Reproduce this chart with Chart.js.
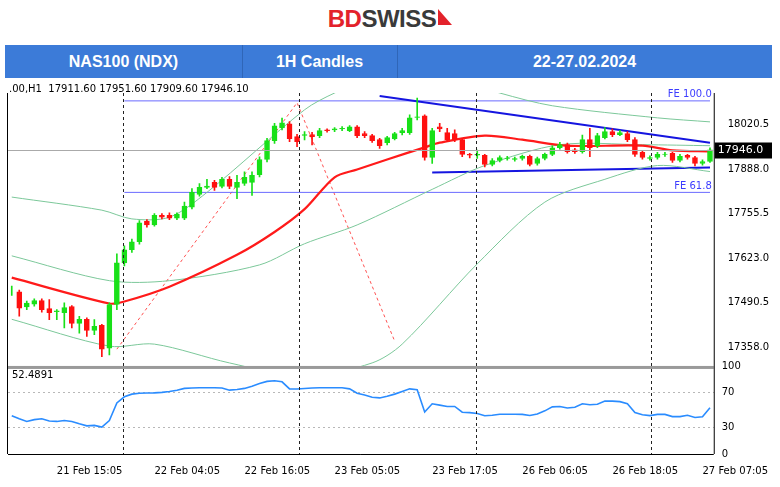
<!DOCTYPE html>
<html>
<head>
<meta charset="utf-8">
<script src="https://cdn.jsdelivr.net/npm/chart.js@4"></script>
<style>
  body { margin:0; width:780px; height:487px; background:#fff; font-family:"Liberation Sans", Arial, sans-serif; overflow:hidden; position:relative; }
  .logo { position:absolute; top:5px; left:0; width:780px; text-align:center; font:bold 24px "Liberation Sans", Arial, sans-serif; letter-spacing:-0.5px; }
  .logo .bd { color:#e3222b; } .logo .sw { color:#3a3a3a; }
  .logo .flag { display:inline-block; width:0; height:0; border-left:14px solid #e3222b; border-top:16px solid transparent; vertical-align:2px; margin-left:2px; }
  .banner { position:absolute; left:5px; top:45px; width:767px; height:33px; background:#3c7bd8; color:#fff; font:bold 16px "Liberation Sans", Arial, sans-serif; }
  .banner div { position:absolute; top:0; height:33px; line-height:33px; text-align:center; border-right:1px solid #2f66b8; }
  .wrap { position:absolute; left:5px; top:79px; width:767px; height:401px; }
  .ohlc { position:absolute; left:9px; top:83px; font:10px "DejaVu Sans", sans-serif; color:#000; white-space:nowrap; }
</style>
</head>
<body>
<div class="logo"><span class="bd">BD</span><span class="sw">SWISS</span><span class="flag"></span></div>
<div class="banner">
  <div style="left:0;width:237px">NAS100 (NDX)</div>
  <div style="left:237px;width:155px">1H Candles</div>
  <div style="left:392px;width:375px;border-right:none">22-27.02.2024</div>
</div>
<div class="wrap"><canvas id="chart"></canvas></div>
<div class="ohlc">.00,H1&nbsp; 17911.60 17951.60 17909.60 17946.10</div>
<script>
// ----- candles (NAS100 1H) -----
const opens  = [17523,17523,17478,17486,17497,17473,17464,17461,17479,17429,17441,17408,17423,17355,17485,17609,17648,17672,17733,17722,
                17751,17751,17742,17742,17775,17813,17834,17849,17837,17858,17834,17846,17849,17872,17917,17973,18011,18023,17985,17989,
                17991,17988,18005,18005,18008,18003,18014,17994,17988,17976,17967,17979,17997,17997,18042,18047,17923,18014,17997,17994,
                17976,17932,17930,17929,17902,17914,17920,17917,17920,17926,17905,17920,17932,17952,17961,17946,17940,17976,17958,17982,
                18000,17991,17994,17976,17938,17920,17923,17932,17935,17914,17929,17923,17905,17911];
const closes = [17523,17474,17489,17497,17470,17461,17466,17476,17429,17441,17408,17420,17352,17485,17609,17648,17672,17728,17722,17751,
                17745,17742,17754,17778,17819,17834,17838,17834,17858,17837,17849,17864,17870,17917,17973,18017,18026,17979,17970,17991,
                17985,18003,18003,18008,18010,18014,17988,17988,17973,17958,17982,17994,18003,18041,18044,17923,18003,18008,17976,17976,
                17932,17930,17932,17902,17914,17923,17921,17920,17926,17902,17920,17932,17952,17961,17940,17940,17976,17952,17988,18000,
                17991,17997,17976,17932,17923,17923,17932,17933,17914,17926,17923,17905,17911,17946];
const highs  = [17540,17528,17495,17502,17502,17500,17470,17490,17482,17450,17445,17440,17426,17490,17636,17660,17680,17735,17738,17756,
                17756,17758,17758,17790,17830,17845,17858,17855,17864,17866,17870,17880,17880,17925,17980,18025,18040,18030,17992,18000,
                17998,18010,18008,18012,18015,18018,18018,18000,17992,17980,17986,17998,18010,18050,18100,18050,18010,18025,18010,18005,
                17980,17935,17945,17932,17920,17928,17926,17924,17930,17930,17924,17936,17958,17968,17966,17950,17990,18010,17995,18012,
                18008,18004,18000,17982,17942,17928,17938,17938,17938,17932,17932,17926,17916,17952];
const lows   = [17512,17450,17470,17480,17462,17440,17440,17415,17415,17400,17390,17395,17330,17335,17470,17600,17640,17665,17715,17718,
                17740,17738,17738,17738,17770,17808,17830,17825,17832,17830,17800,17840,17810,17865,17910,17965,18005,17970,17955,17975,
                17960,17982,17998,18000,18003,18000,17982,17982,17968,17950,17960,17975,17990,17992,18035,17915,17905,18000,17970,17970,
                17925,17922,17920,17895,17898,17910,17915,17912,17915,17898,17900,17916,17928,17948,17936,17935,17936,17925,17952,17978,
                17985,17988,17970,17926,17918,17915,17918,17926,17908,17910,17918,17898,17900,17908];

// ----- indicator (oscillator, bottom panel) -----
const osc = [43.5,40,37,39,40,37.5,37,38,37,34.3,32,32.5,30.5,38,58,65,68,69,69.2,69.4,
             70,71,72.5,74.5,75,75.3,75.3,75.3,75,72.5,73.2,74.5,77,80,82.5,83.2,82,74,73.8,74.4,
             75,75.3,75.3,75.3,75.2,74,69,67,64.5,63.7,65.5,68,71,74,73,47.7,57,55.5,54,54,
             47.5,47,46,43.5,44,45.2,45.2,45.2,45,43.8,45.5,49,53.5,54,52.3,53,57,56,56.5,60.2,
             60,59.5,57,47,44.5,43.6,45,45,42.5,42.5,44,41.5,42.3,52.5];
const oscLast = '52.4891';

// ----- x axis tick labels (candle index -> text) -----
const tickIdx  = [6, 19, 31, 43, 56, 68, 80, 92];
const tickText = ['21 Feb 15:05','22 Feb 04:05','22 Feb 16:05','23 Feb 05:05','23 Feb 17:05','26 Feb 06:05','26 Feb 18:05','27 Feb 07:05'];
const priceTicks = [17358, 17490.5, 17623, 17755.5, 17888, 18020.5];
const oscTicks = [0, 30, 70, 100];
const sessionBreaks = [14.8, 38.3, 61.9, 85.2];

// ----- overlay lines: [candle index, price] -----
const maRed   = [[0,17565],[13,17488],[15,17494],[21,17538],[30,17633],[35,17701],[39,17769],[43,17864],[46,17887],[50,17917],
                 [55,17953],[57,17967],[63,17988],[68,17976],[74,17958],[84,17958],[88,17944],[93,17941]];
const bandUp  = [[0,17805],[12,17766],[16,17740],[21,17745],[26,17819],[39,18065],[43,18115],[52,18200],[65,18115],[72,18077],[86,18041],[93,18029]];
const bandMid = [[0,17630],[13,17556],[21,17556],[33,17603],[39,17666],[46,17722],[56,17828],[63,17899],[73,17961],[84,17961],[93,17958]];
const bandLow = [[0,17441],[13,17361],[19,17367],[29,17311],[39,17270],[48,17311],[52,17367],[62,17606],[71,17790],[79,17858],[86,17899],[93,17881]];
const trendUp = [[49,18106],[93,17967]];
const trendLow= [[56,17878],[93,17893]];
const fe100   = [[15,18091.5],[93,18091.5]];
const fe618   = [[15,17819],[93,17819]];
const fibo    = [[14,17352],[38,18086],[51,17376]];

const labels = opens.map((_, i) => { const k = tickIdx.indexOf(i); return k >= 0 ? tickText[k] : ''; });
function sparse(pts) { const a = new Array(opens.length).fill(null); pts.forEach(p => a[p[0]] = p[1]); return a; }
const UP = '#18e018', DN = '#ff1010';
const col = opens.map((o, i) => closes[i] >= o ? UP : DN);

function line(data, color, width, extra) {
  return Object.assign({ type:'line', data: sparse(data), borderColor: color, borderWidth: width, pointRadius: 0,
    spanGaps: true, yAxisID: 'y', tension: 0.3, order: 5 }, extra || {});
}

const overlay = {
  id: 'overlay',
  afterDraw(chart) {
    const { ctx, chartArea: a, scales: { x, y, y2 } } = chart;
    const step = x.getPixelForValue(1) - x.getPixelForValue(0);
    ctx.save();
    ctx.fillStyle = '#9a9a9a'; ctx.fillRect(a.left, y.bottom, a.right - a.left, 3);
    ctx.strokeStyle = '#000'; ctx.lineWidth = 1;
    ctx.beginPath(); ctx.moveTo(a.left, a.bottom + 0.5); ctx.lineTo(a.right, a.bottom + 0.5);
    ctx.moveTo(a.right + 0.5, a.top); ctx.lineTo(a.right + 0.5, a.bottom);
    ctx.moveTo(a.left - 0.5, a.top); ctx.lineTo(a.left - 0.5, a.bottom); ctx.stroke();
    ctx.setLineDash([3, 3]); ctx.strokeStyle = '#222';
    sessionBreaks.forEach(b => {
      const px = Math.round(x.getPixelForValue(Math.floor(b)) + (b - Math.floor(b)) * step) + 0.5;
      ctx.beginPath(); ctx.moveTo(px, a.top); ctx.lineTo(px, a.bottom); ctx.stroke();
    });
    ctx.setLineDash([]);
    const last = closes[closes.length - 1], py = Math.round(y.getPixelForValue(last)) + 0.5;
    ctx.strokeStyle = '#aaaaaa';
    ctx.beginPath(); ctx.moveTo(a.left, py); ctx.lineTo(a.right, py); ctx.stroke();
    ctx.fillStyle = '#000'; ctx.fillRect(a.right + 1, py - 8, 60, 16);
    ctx.fillStyle = '#fff'; ctx.font = '11px "DejaVu Sans"'; ctx.textBaseline = 'middle';
    ctx.fillText(last.toFixed(1), a.right + 4, py);
    ctx.fillStyle = '#3c3cff'; ctx.font = '10px "DejaVu Sans"'; ctx.textAlign = 'right'; ctx.textBaseline = 'bottom';
    ctx.fillText('FE 100.0', a.right - 2, y.getPixelForValue(fe100[0][1]) - 1);
    ctx.fillText('FE 61.8', a.right - 2, y.getPixelForValue(fe618[0][1]) - 1);
    ctx.fillStyle = '#000'; ctx.textAlign = 'left'; ctx.textBaseline = 'top';
    ctx.fillText(oscLast, a.left + 4, y2.top + 4);
    ctx.restore();
  }
};

new Chart(document.getElementById('chart'), {
  data: {
    labels: labels,
    datasets: [
      { type:'bar', data: opens.map((o, i) => [lows[i], highs[i]]), backgroundColor: col, barThickness: 1, grouped: false, yAxisID: 'y', order: 2 },
      { type:'bar', data: opens.map((o, i) => [o, closes[i]]), backgroundColor: col, borderColor: col, borderWidth: 1, borderSkipped: false,
        barThickness: 5, grouped: false, yAxisID: 'y', order: 1 },
      line(maRed, '#ff1a1a', 2.2, { order: 3 }),
      line(bandUp, '#7cc89a', 1),
      line(bandMid, '#7cc89a', 1),
      line(bandLow, '#7cc89a', 1),
      line(trendUp, '#1515e0', 2, { tension: 0 }),
      line(trendLow, '#1515e0', 2, { tension: 0 }),
      line(fe100, '#6a6aff', 1, { tension: 0 }),
      line(fe618, '#6a6aff', 1, { tension: 0 }),
      line(fibo, '#ff5050', 1, { tension: 0, borderDash: [3, 3] }),
      { type:'line', data: osc, borderColor: '#2a8cff', borderWidth: 1.6, pointRadius: 0, tension: 0, yAxisID: 'y2', order: 0 }
    ]
  },
  options: {
    responsive: true, maintainAspectRatio: false, animation: false,
    layout: { padding: { left: 3, top: 0, right: 0, bottom: 0 } },
    plugins: { legend: { display: false }, tooltip: { enabled: false } },
    scales: {
      x: {
        offset: true, grid: { display: false },
        ticks: { autoSkip: false, maxRotation: 0, align: 'start', color: '#000', font: { family: 'DejaVu Sans', size: 10 }, padding: 3,
                 callback: (v, i) => labels[i] || null }
      },
      y: {
        position: 'right', stack: 'p', stackWeight: 3.1, min: 17302, max: 18115,
        grid: { display: false }, border: { display: false },
        afterBuildTicks: s => { s.ticks = priceTicks.map(v => ({ value: v })); },
        afterFit: s => { s.width = 57; },
        ticks: { color: '#000', font: { family: 'DejaVu Sans', size: 10 }, padding: 6, callback: v => v.toFixed(1) }
      },
      y2: {
        position: 'right', stack: 'p', stackWeight: 1, min: 0, max: 100, offset: false,
        grid: { color: v => (v.tick.value === 30 || v.tick.value === 70) ? '#b8b8b8' : 'rgba(0,0,0,0)', borderDash: [2, 3], drawTicks: false },
        border: { display: false, dash: [2, 3] },
        afterBuildTicks: s => { s.ticks = oscTicks.map(v => ({ value: v })); },
        afterFit: s => { s.width = 57; },
        ticks: { color: '#000', font: { family: 'DejaVu Sans', size: 10 }, padding: 8 }
      }
    }
  },
  plugins: [overlay]
});
</script>
</body>
</html>
